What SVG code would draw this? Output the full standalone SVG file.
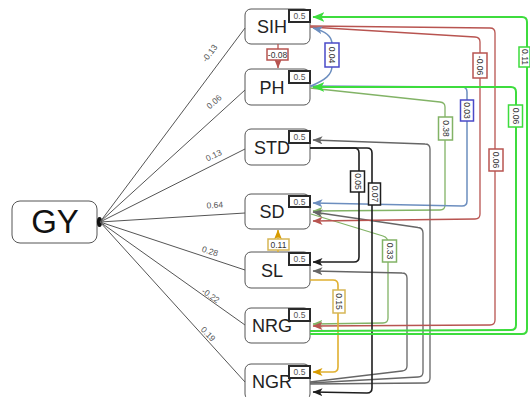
<svg xmlns="http://www.w3.org/2000/svg" width="530" height="397" viewBox="0 0 530 397">
  <style>
    .node rect.box { fill: #ffffff; stroke: #555555; stroke-width: 1; }
    .node text.name { font-family: "Liberation Sans", Arial, sans-serif; font-size: 18px; fill: #222222; text-anchor: middle; }
    .node rect.tag { fill: #ffffff; stroke: #2a2a2a; stroke-width: 2; }
    .node text.tagtxt { font-family: "Liberation Sans", Arial, sans-serif; font-size: 8.5px; fill: #555555; text-anchor: middle; }
    .fan line { stroke: #555555; stroke-width: 1; }
    .fanlbl { font-family: "Liberation Sans", Arial, sans-serif; font-size: 8.5px; fill: #555555; text-anchor: middle; }
    .lbl text { font-family: "Liberation Sans", Arial, sans-serif; font-size: 8.5px; fill: #333333; text-anchor: middle; }
    .lbl rect { fill: #ffffff; stroke-width: 1.5; }
    .red { stroke: #b85450; stroke-width: 1.3; fill: none; }
    .blue { stroke: #6c8ebf; stroke-width: 1.5; fill: none; }
    .green { stroke: #3ddc3d; stroke-width: 2; fill: none; }
    .olive { stroke: #82b366; stroke-width: 1.3; fill: none; }
    .gray { stroke: #666666; stroke-width: 1.3; fill: none; }
    .black { stroke: #1e1e1e; stroke-width: 1.6; fill: none; }
    .orange { stroke: #e0b030; stroke-width: 1.6; fill: none; }
  </style>
  <defs>
    <marker id="ar-red" viewBox="0 0 10 8" refX="9.5" refY="4" markerWidth="10" markerHeight="8" orient="auto" markerUnits="userSpaceOnUse"><path d="M0,0 L10,4 L0,8 L2.5,4 z" fill="#b85450"/></marker>
    <marker id="ar-blue" viewBox="0 0 10 8" refX="9.5" refY="4" markerWidth="10" markerHeight="8" orient="auto" markerUnits="userSpaceOnUse"><path d="M0,0 L10,4 L0,8 L2.5,4 z" fill="#6c8ebf"/></marker>
    <marker id="ar-green" viewBox="0 0 10 8" refX="9.5" refY="4" markerWidth="12" markerHeight="10" orient="auto" markerUnits="userSpaceOnUse"><path d="M0,0 L10,4 L0,8 L2.5,4 z" fill="#3ddc3d"/></marker>
    <marker id="ar-olive" viewBox="0 0 10 8" refX="9.5" refY="4" markerWidth="10" markerHeight="8" orient="auto" markerUnits="userSpaceOnUse"><path d="M0,0 L10,4 L0,8 L2.5,4 z" fill="#82b366"/></marker>
    <marker id="ar-gray" viewBox="0 0 10 8" refX="9.5" refY="4" markerWidth="10" markerHeight="8" orient="auto" markerUnits="userSpaceOnUse"><path d="M0,0 L10,4 L0,8 L2.5,4 z" fill="#666666"/></marker>
    <marker id="ar-black" viewBox="0 0 10 8" refX="9.5" refY="4" markerWidth="10" markerHeight="8" orient="auto" markerUnits="userSpaceOnUse"><path d="M0,0 L10,4 L0,8 L2.5,4 z" fill="#1e1e1e"/></marker>
    <marker id="ar-orange" viewBox="0 0 10 8" refX="9.5" refY="4" markerWidth="10" markerHeight="8" orient="auto" markerUnits="userSpaceOnUse"><path d="M0,0 L10,4 L0,8 L2.5,4 z" fill="#d79b00"/></marker>
  </defs>

  <!-- nodes -->
  <g id="node-GY" class="node">
    <rect class="box" x="12" y="201" width="85" height="42" rx="8"/>
    <text x="55" y="233" style="font-family:'Liberation Sans',Arial,sans-serif;font-size:33px;fill:#111;text-anchor:middle">GY</text>
    <ellipse cx="99.5" cy="222" rx="2.6" ry="5" fill="#111111"/>
  </g>
  <g id="node-SIH" class="node">
    <rect class="box" x="245" y="9" width="65" height="35" rx="6"/>
    <text class="name" x="272" y="33">SIH</text>
    <rect class="tag" x="289" y="10" width="21" height="12"/>
    <text class="tagtxt" x="299.5" y="19">0.5</text>
  </g>
  <g id="node-PH" class="node">
    <rect class="box" x="245" y="69" width="65" height="36" rx="6"/>
    <text class="name" x="272" y="93.5">PH</text>
    <rect class="tag" x="289" y="71" width="21" height="12"/>
    <text class="tagtxt" x="299.5" y="80">0.5</text>
  </g>
  <g id="node-STD" class="node">
    <rect class="box" x="245" y="129" width="65" height="36" rx="6"/>
    <text class="name" x="272" y="153.5">STD</text>
    <rect class="tag" x="289" y="131" width="21" height="12"/>
    <text class="tagtxt" x="299.5" y="140">0.5</text>
  </g>
  <g id="node-SD" class="node">
    <rect class="box" x="245" y="194" width="65" height="35" rx="6"/>
    <text class="name" x="272" y="218">SD</text>
    <rect class="tag" x="289" y="196" width="21" height="11"/>
    <text class="tagtxt" x="299.5" y="204.5">0.5</text>
  </g>
  <g id="node-SL" class="node">
    <rect class="box" x="245" y="252" width="65" height="36" rx="6"/>
    <text class="name" x="272" y="276.5">SL</text>
    <rect class="tag" x="289" y="253" width="21" height="12"/>
    <text class="tagtxt" x="299.5" y="262">0.5</text>
  </g>
  <g id="node-NRG" class="node">
    <rect class="box" x="245" y="308" width="65" height="35" rx="6"/>
    <text class="name" x="272" y="331.5">NRG</text>
    <rect class="tag" x="289" y="309" width="21" height="12"/>
    <text class="tagtxt" x="299.5" y="318">0.5</text>
  </g>
  <g id="node-NGR" class="node">
    <rect class="box" x="245" y="364" width="65" height="36" rx="6"/>
    <text class="name" x="272" y="387.5">NGR</text>
    <rect class="tag" x="289" y="366" width="21" height="12"/>
    <text class="tagtxt" x="299.5" y="375">0.5</text>
  </g>

  <!-- connectors -->
  <g id="connectors">
    <!-- GY fan-out -->
    <g class="fan">
      <line x1="100" y1="222" x2="245" y2="28"/>
      <line x1="100" y1="222" x2="245" y2="90"/>
      <line x1="100" y1="222" x2="245" y2="149"/>
      <line x1="100" y1="222" x2="245" y2="213"/>
      <line x1="100" y1="222" x2="245" y2="270"/>
      <line x1="100" y1="222" x2="245" y2="325"/>
      <line x1="100" y1="222" x2="245" y2="382"/>
    </g>
    <text class="fanlbl" transform="translate(212,55) rotate(-53)">-0.13</text>
    <text class="fanlbl" transform="translate(216,104) rotate(-42)">0.06</text>
    <text class="fanlbl" transform="translate(215,158) rotate(-26)">0.13</text>
    <text class="fanlbl" transform="translate(215,208) rotate(-3.5)">0.64</text>
    <text class="fanlbl" transform="translate(209,254) rotate(18)">0.28</text>
    <text class="fanlbl" transform="translate(209,298) rotate(35)">-0.22</text>
    <text class="fanlbl" transform="translate(206,336) rotate(47)">0.19</text>

    <!-- olive and blue into SD from PH -->
    <path class="olive" d="M310,88 L440,102 Q445,102.5 445,107 L445,205 Q445,210 440,210 L313,211" marker-end="url(#ar-olive)"/>
    <path class="blue" d="M310,86 L462,87 Q467,87 467,92 L467,201 Q467,206 462,206 L313,203" marker-end="url(#ar-blue)"/>
    <!-- olive SD to NRG -->
    <path class="olive" d="M311,214 L383,236 Q388,237.5 388,243 L388,318 Q388,323 383,323 L313,324" marker-end="url(#ar-olive)"/>
    <!-- gray from NGR -->
    <path class="gray" d="M310,384 L425,383 Q430,383 430,378 L430,149 Q430,144 425,144 L313,140" marker-end="url(#ar-gray)"/>
    <path class="gray" d="M310,383 L418,377 Q423,377 423,372 L423,233 Q423,228 418,227.5 L313,212" marker-end="url(#ar-gray)"/>
    <path class="gray" d="M310,382 L402,371 Q407,370.5 407,366 L407,278 Q407,273 402,273 L313,271" marker-end="url(#ar-gray)"/>
    <!-- red from SIH -->
    <path class="red" d="M310,26 L490,28 Q495,28 495,33 L495,320 Q495,325 490,325 L313,326" marker-end="url(#ar-red)"/>
    <path class="red" d="M310,27 L475,37 Q480,37.3 480,42 L480,214 Q480,219 475,219 L313,221" marker-end="url(#ar-red)"/>
    <path class="red" d="M278,44 L278,68" marker-end="url(#ar-red)"/>
    <!-- blue PH to SIH -->
    <path class="blue" d="M311,86 C325,80 332,75 332,66 L332,44 C332,36 325,31 313,28" marker-end="url(#ar-blue)"/>
    <!-- black from STD -->
    <path class="black" d="M310,148 L354,148 Q359,148 359,153 L359,257 Q359,262 354,262 L313,262" marker-end="url(#ar-black)"/>
    <path class="black" d="M310,148 L367,148 Q372,148 372,153 L372,388 Q372,393 367,393 L313,392" marker-end="url(#ar-black)"/>
    <!-- orange from SL -->
    <path class="orange" d="M310,280 L333,280 Q338,280 338,285 L338,367 Q338,372 333,372 L313,372" marker-end="url(#ar-orange)"/>
    <path class="orange" d="M278,252 L278,230" marker-end="url(#ar-orange)"/>
    <!-- green from NRG -->
    <path class="green" d="M310,331 L511,330 Q516,330 516,325 L516,92 Q516,87 511,87 L313,87" marker-end="url(#ar-green)"/>
    <path class="green" d="M310,334 L522,334 Q527,334 527,329 L527,22 Q527,17 522,17 L313,17" marker-end="url(#ar-green)"/>

    <!-- connector labels -->
    <g class="lbl">
      <rect x="267" y="49" width="21" height="11" stroke="#b85450"/>
      <text x="277.5" y="57.5">-0.08</text>
      <rect x="268" y="239" width="21" height="11" stroke="#d6b656"/>
      <text x="278.5" y="247.5">0.11</text>
    </g>
    <g class="lbl" transform="translate(332,55) rotate(90)"><rect x="-12" y="-7" width="24" height="14" stroke="#4a4ac8"/><text y="3">0.04</text></g>
    <g class="lbl" transform="translate(480,65.5) rotate(90)"><rect x="-12.5" y="-7" width="25" height="14" stroke="#b85450"/><text y="3">-0.06</text></g>
    <g class="lbl" transform="translate(496,160) rotate(90)"><rect x="-11" y="-7" width="22" height="14" stroke="#b85450"/><text y="3">0.06</text></g>
    <g class="lbl" transform="translate(524.5,57) rotate(90)"><rect x="-10" y="-5.5" width="20" height="11" stroke="#3ddc3d"/><text y="3">0.11</text></g>
    <g class="lbl" transform="translate(515.5,116) rotate(90)"><rect x="-11" y="-7" width="22" height="14" stroke="#3ddc3d"/><text y="3">0.06</text></g>
    <g class="lbl" transform="translate(467,110.5) rotate(90)"><rect x="-10.5" y="-6.5" width="21" height="13" stroke="#4a4ac8"/><text y="3">0.03</text></g>
    <g class="lbl" transform="translate(445.5,128.5) rotate(90)"><rect x="-11.5" y="-7" width="23" height="14" stroke="#82b366"/><text y="3">0.38</text></g>
    <g class="lbl" transform="translate(357.5,181.5) rotate(90)"><rect x="-10.5" y="-7" width="21" height="14" stroke="#1e1e1e"/><text y="3">0.05</text></g>
    <g class="lbl" transform="translate(374.5,194) rotate(90)"><rect x="-11" y="-6" width="22" height="12" stroke="#1e1e1e"/><text y="3">0.07</text></g>
    <g class="lbl" transform="translate(389.5,251) rotate(90)"><rect x="-11" y="-7" width="22" height="14" stroke="#82b366"/><text y="3">0.33</text></g>
    <g class="lbl" transform="translate(339,301.5) rotate(90)"><rect x="-11.5" y="-6" width="23" height="12" stroke="#d6b656"/><text y="3">0.15</text></g>
  </g>
</svg>
